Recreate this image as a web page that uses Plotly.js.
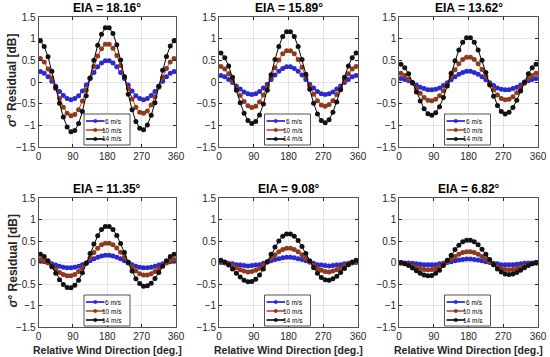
<!DOCTYPE html>
<html><head><meta charset="utf-8">
<script src="https://cdn.plot.ly/plotly-3.0.1.min.js"></script>
<style>html,body{margin:0;padding:0;background:#fff}#chart{width:550px;height:357px}</style>
</head><body><div id="chart"></div>
<script>
const direction = [5,15,25,35,45,55,65,75,85,95,105,115,125,135,145,155,165,175,185,195,205,215,225,235,245,255,265,275,285,295,305,315,325,335,345,355];
const xTickVals = [0,90,180,270,360];
const yTickVals = [-1.5,-1,-0.5,0,0.5,1,1.5];
const panelTitles = ['EIA = 18.16°','EIA = 15.89°','EIA = 13.62°','EIA = 11.35°','EIA = 9.08°','EIA = 6.82°'];
const speedLabels = ['6 m/s','10 m/s','14 m/s'];

// EIA 18.16
const eia1816_6 = [0.24,0.20,0.12,0.02,-0.10,-0.22,-0.31,-0.38,-0.41,-0.38,-0.32,-0.21,-0.07,0.08,0.22,0.35,0.44,0.49,0.49,0.44,0.35,0.22,0.08,-0.07,-0.21,-0.32,-0.38,-0.41,-0.38,-0.31,-0.22,-0.10,0.02,0.12,0.20,0.24];
const eia1816_10 = [0.54,0.46,0.30,0.09,-0.15,-0.38,-0.58,-0.72,-0.78,-0.75,-0.64,-0.44,-0.19,0.09,0.36,0.60,0.77,0.87,0.87,0.78,0.61,0.38,0.12,-0.15,-0.39,-0.58,-0.70,-0.72,-0.67,-0.53,-0.34,-0.12,0.11,0.31,0.46,0.54];
const eia1816_14 = [0.95,0.82,0.58,0.25,-0.12,-0.49,-0.81,-1.04,-1.15,-1.12,-0.96,-0.68,-0.32,0.09,0.50,0.85,1.10,1.25,1.25,1.12,0.86,0.51,0.12,-0.28,-0.64,-0.91,-1.07,-1.10,-0.99,-0.77,-0.48,-0.10,0.27,0.59,0.83,0.95];
// EIA 15.89
const eia1589_6 = [0.15,0.12,0.06,-0.01,-0.09,-0.16,-0.23,-0.27,-0.29,-0.27,-0.22,-0.14,-0.05,0.06,0.16,0.25,0.31,0.35,0.35,0.31,0.25,0.16,0.06,-0.05,-0.14,-0.22,-0.27,-0.29,-0.27,-0.23,-0.16,-0.09,-0.01,0.06,0.12,0.15];
const eia1589_10 = [0.36,0.30,0.19,0.03,-0.14,-0.31,-0.45,-0.55,-0.59,-0.56,-0.46,-0.30,-0.11,0.11,0.33,0.51,0.65,0.72,0.72,0.65,0.52,0.34,0.13,-0.09,-0.28,-0.43,-0.53,-0.56,-0.52,-0.43,-0.29,-0.13,0.04,0.19,0.30,0.36];
const eia1589_14 = [0.67,0.56,0.37,0.11,-0.19,-0.48,-0.72,-0.89,-0.96,-0.91,-0.76,-0.51,-0.19,0.17,0.52,0.82,1.05,1.16,1.16,1.05,0.82,0.52,0.18,-0.17,-0.49,-0.74,-0.89,-0.94,-0.87,-0.70,-0.46,-0.18,0.11,0.37,0.56,0.67];
// EIA 13.62
const eia1362_6 = [0.08,0.06,0.03,-0.02,-0.07,-0.12,-0.15,-0.18,-0.18,-0.17,-0.14,-0.08,-0.02,0.05,0.12,0.18,0.22,0.25,0.25,0.22,0.18,0.12,0.05,-0.02,-0.08,-0.14,-0.17,-0.18,-0.18,-0.15,-0.12,-0.07,-0.02,0.03,0.06,0.08];
const eia1362_10 = [0.20,0.15,0.07,-0.03,-0.15,-0.26,-0.36,-0.42,-0.43,-0.40,-0.32,-0.20,-0.05,0.12,0.28,0.42,0.52,0.57,0.57,0.52,0.42,0.29,0.13,-0.03,-0.18,-0.30,-0.38,-0.41,-0.40,-0.34,-0.25,-0.14,-0.03,0.08,0.15,0.20];
const eia1362_14 = [0.41,0.33,0.19,-0.01,-0.23,-0.44,-0.62,-0.73,-0.77,-0.71,-0.57,-0.36,-0.09,0.20,0.49,0.74,0.92,1.02,1.02,0.92,0.74,0.50,0.22,-0.07,-0.33,-0.54,-0.68,-0.74,-0.70,-0.59,-0.42,-0.21,0.00,0.19,0.33,0.41];
// EIA 11.35
const eia1135_6 = [0.03,0.02,0.00,-0.03,-0.06,-0.09,-0.11,-0.12,-0.12,-0.11,-0.09,-0.05,-0.01,0.04,0.09,0.12,0.15,0.17,0.17,0.15,0.12,0.09,0.04,-0.01,-0.05,-0.09,-0.11,-0.12,-0.12,-0.11,-0.09,-0.06,-0.03,0.00,0.02,0.03];
const eia1135_10 = [0.07,0.04,-0.01,-0.08,-0.15,-0.23,-0.28,-0.31,-0.31,-0.28,-0.21,-0.12,-0.01,0.11,0.23,0.33,0.41,0.45,0.45,0.41,0.34,0.24,0.12,0.01,-0.10,-0.20,-0.26,-0.29,-0.29,-0.26,-0.21,-0.14,-0.07,-0.01,0.04,0.07];
const eia1135_14 = [0.19,0.14,0.04,-0.10,-0.25,-0.40,-0.51,-0.58,-0.59,-0.53,-0.41,-0.24,-0.02,0.21,0.43,0.62,0.77,0.84,0.84,0.77,0.63,0.44,0.23,0.00,-0.20,-0.38,-0.49,-0.55,-0.54,-0.48,-0.37,-0.23,-0.09,0.04,0.14,0.19];
// EIA 9.08
const eia908_6 = [0.00,-0.01,-0.02,-0.03,-0.05,-0.06,-0.07,-0.08,-0.07,-0.06,-0.05,-0.02,0.01,0.04,0.07,0.09,0.11,0.12,0.12,0.11,0.09,0.07,0.04,0.01,-0.02,-0.05,-0.06,-0.07,-0.08,-0.07,-0.06,-0.05,-0.03,-0.02,-0.01,0.00];
const eia908_10 = [0.02,0.00,-0.03,-0.08,-0.12,-0.17,-0.20,-0.22,-0.21,-0.18,-0.14,-0.07,0.01,0.10,0.18,0.25,0.30,0.33,0.33,0.30,0.25,0.18,0.10,0.01,-0.07,-0.14,-0.18,-0.21,-0.22,-0.20,-0.17,-0.12,-0.08,-0.03,0.00,0.02];
const eia908_14 = [0.05,0.01,-0.06,-0.15,-0.25,-0.34,-0.41,-0.45,-0.44,-0.39,-0.29,-0.15,0.02,0.19,0.36,0.50,0.61,0.66,0.66,0.61,0.51,0.37,0.21,0.04,-0.12,-0.25,-0.35,-0.40,-0.41,-0.38,-0.32,-0.23,-0.14,-0.05,0.01,0.05];
// EIA 6.82
const eia682_6 = [0.00,-0.01,-0.01,-0.02,-0.03,-0.04,-0.05,-0.05,-0.05,-0.05,-0.03,-0.02,0.00,0.02,0.04,0.06,0.07,0.08,0.08,0.07,0.06,0.04,0.02,0.00,-0.02,-0.03,-0.05,-0.05,-0.05,-0.05,-0.04,-0.03,-0.02,-0.01,-0.01,0.00];
const eia682_10 = [-0.02,-0.03,-0.05,-0.08,-0.11,-0.14,-0.16,-0.17,-0.16,-0.14,-0.10,-0.05,0.01,0.08,0.14,0.19,0.23,0.25,0.25,0.23,0.19,0.14,0.08,0.01,-0.05,-0.10,-0.14,-0.16,-0.17,-0.16,-0.14,-0.11,-0.08,-0.05,-0.03,-0.02];
const eia682_14 = [0.00,-0.03,-0.07,-0.13,-0.19,-0.25,-0.29,-0.31,-0.30,-0.25,-0.18,-0.07,0.05,0.17,0.30,0.40,0.48,0.52,0.52,0.48,0.41,0.31,0.19,0.07,-0.05,-0.15,-0.22,-0.27,-0.28,-0.27,-0.23,-0.18,-0.12,-0.07,-0.03,0.00];

const panels = [
  [eia1816_6, eia1816_10, eia1816_14],
  [eia1589_6, eia1589_10, eia1589_14],
  [eia1362_6, eia1362_10, eia1362_14],
  [eia1135_6, eia1135_10, eia1135_14],
  [eia908_6, eia908_10, eia908_14],
  [eia682_6, eia682_10, eia682_14]
];

const W = 550, H = 357;
const colPx = [[38.5,176],[219,358],[399,538]];
const rowPx = [[17,147],[198,327]];
const lineColors = ['#1010f0','#c0442a','#000000'];
const markerColors = ['#2a2ad0','#8e3b1c','#111111'];
const fontFam = 'Liberation Sans, Arial, sans-serif';
const tickColor = '#262626';

const traces = [];
const layout = {
  width: W, height: H,
  margin: {l:0, r:0, t:0, b:0},
  paper_bgcolor: '#ffffff', plot_bgcolor: '#ffffff',
  font: {family: fontFam, size: 10, color: tickColor},
  annotations: [], shapes: [],
  showlegend: false
};
const px = v => v / W, py = v => 1 - v / H;

panels.forEach((series, i) => {
  const r = Math.floor(i / 3), c = i % 3;
  const n = i + 1;
  const xa = 'xaxis' + (n === 1 ? '' : n), ya = 'yaxis' + (n === 1 ? '' : n);
  const xr = 'x' + (n === 1 ? '' : n), yr = 'y' + (n === 1 ? '' : n);
  const L = colPx[c][0], R = colPx[c][1], T = rowPx[r][0], B = rowPx[r][1];
  layout[xa] = {
    domain: [px(L), px(R)], anchor: yr, range: [0, 360],
    tickvals: xTickVals, ticks: 'inside', ticklen: 3, tickcolor: tickColor,
    showline: true, mirror: 'ticks', linecolor: tickColor, linewidth: 0.8,
    showgrid: true, gridcolor: '#dedede', gridwidth: 0.8, zeroline: false,
    tickfont: {family: fontFam, size: 10, color: tickColor}
  };
  layout[ya] = {
    domain: [py(B), py(T)], anchor: xr, range: [-1.5, 1.5],
    tickvals: yTickVals, ticks: 'inside', ticklen: 3, tickcolor: tickColor,
    showline: true, mirror: 'ticks', linecolor: tickColor, linewidth: 0.8,
    showgrid: true, gridcolor: '#dedede', gridwidth: 0.8, zeroline: false,
    tickfont: {family: fontFam, size: 10, color: tickColor}
  };
  layout.annotations.push({
    text: '<b>' + panelTitles[i] + '</b>', xref: 'paper', yref: 'paper',
    x: px((L + R) / 2), y: py(T - 9), xanchor: 'center', yanchor: 'middle',
    showarrow: false, font: {family: fontFam, size: 12, color: '#000'}
  });
  series.forEach((vals, s) => {
    traces.push({
      type: 'scatter', mode: 'lines+markers', x: direction, y: vals,
      xaxis: xr, yaxis: yr, name: speedLabels[s],
      line: {color: lineColors[s], width: 1},
      marker: {color: markerColors[s], size: 5}
    });
  });
  // legend box (drawn as shapes + text)
  layout.shapes.push({
    type: 'rect', xref: 'paper', yref: 'paper', layer: 'above',
    x0: px(L + 45.5), x1: px(L + 91.5), y0: py(T + 97), y1: py(T + 128),
    fillcolor: '#ffffff', line: {color: tickColor, width: 0.8}
  });
  speedLabels.forEach((lab, s) => {
    const ey = T + 104 + s * 9;
    layout.shapes.push({
      type: 'line', xref: 'paper', yref: 'paper', layer: 'above',
      x0: px(L + 47.5), x1: px(L + 66), y0: py(ey), y1: py(ey),
      line: {color: lineColors[s], width: 1.6}
    });
    layout.shapes.push({
      type: 'circle', xref: 'paper', yref: 'paper', layer: 'above',
      x0: px(L + 55), x1: px(L + 58.5), y0: py(ey - 1.75), y1: py(ey + 1.75),
      fillcolor: markerColors[s], line: {color: markerColors[s], width: 0.5}
    });
    layout.annotations.push({
      text: lab, xref: 'paper', yref: 'paper', x: px(L + 86), y: py(ey),
      xanchor: 'right', yanchor: 'middle', showarrow: false,
      font: {family: fontFam, size: 6.5, color: '#000'}
    });
  });
});

// axis label annotations
[0, 1].forEach(r => {
  layout.annotations.push({
    text: '<b><i>σ</i>° Residual [dB]</b>', xref: 'paper', yref: 'paper',
    x: px(12), y: py((rowPx[r][0] + rowPx[r][1]) / 2 - 1), textangle: -90,
    xanchor: 'center', yanchor: 'middle', showarrow: false,
    font: {family: fontFam, size: 12, color: tickColor}
  });
});
[0, 1, 2].forEach(c => {
  layout.annotations.push({
    text: '<b>Relative Wind Direction [deg.]</b>', xref: 'paper', yref: 'paper',
    x: px((colPx[c][0] + colPx[c][1]) / 2), y: py(350),
    xanchor: 'center', yanchor: 'middle', showarrow: false,
    font: {family: fontFam, size: 10.5, color: tickColor}
  });
});

Plotly.newPlot('chart', traces, layout, {displayModeBar: false, staticPlot: true});
</script>
</body></html>
